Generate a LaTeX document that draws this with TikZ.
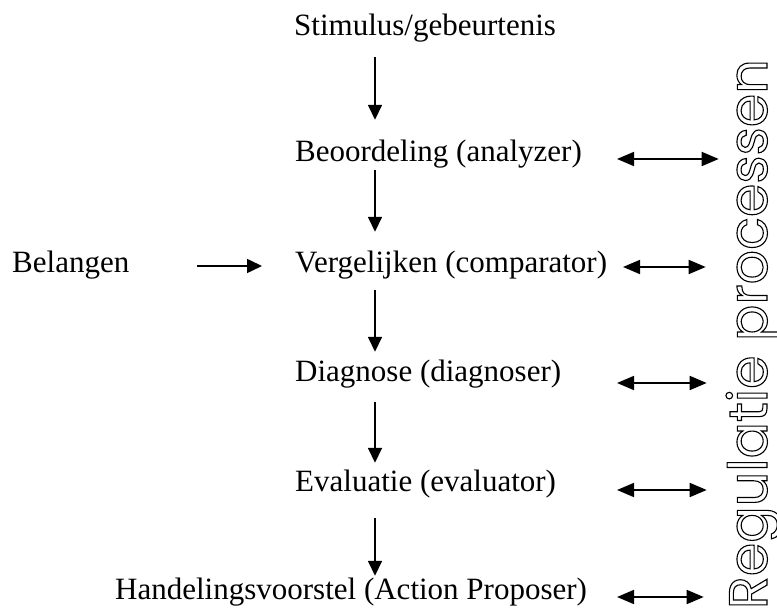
\documentclass[tikz,border=0pt]{standalone}
\usepackage{fontspec}
\setmainfont{Liberation Serif}
\newfontfamily\regfont{Poppins}
\usetikzlibrary{arrows.meta,calc}
\newcommand{\omtrek}[1]{\special{pdf:literal direct 1 Tr 1.1 w}#1\special{pdf:literal direct 0 Tr}}
\tikzset{
  stap/.style={anchor=base west, inner sep=0pt, text height=21pt, text depth=7pt,
    font=\fontsize{31}{36}\selectfont},
  reg/.style={rotate=90, inner sep=0pt, font=\regfont\fontsize{54}{60}\selectfont},
  pijl/.style={-{Triangle[length=15pt,width=14pt]}, line width=1.6pt},
  dubbel/.style={{Triangle[length=17pt,width=14pt]}-{Triangle[length=17pt,width=14pt]}, line width=1.8pt},
}
\begin{document}
\begin{tikzpicture}[x=1pt, y=-1pt]
  \useasboundingbox (0,0) rectangle (777,609);
  \draw
    (294,36) node[stap] (stim){Stimulus/gebeurtenis}
    (295,162) node[stap] (beo){Beoordeling (analyzer)}
    (295,273) node[stap] (verg){Vergelijken (comparator)}
    (295,382) node[stap] (diag){Diagnose (diagnoser)}
    (295,492) node[stap] (eval){Evaluatie (evaluator)}
    (115,599) node[stap] (hand){Handelingsvoorstel (Action Proposer)}
    (12,273) node[stap] (bel){Belangen};
  \node[reg, anchor=base east] (regu) at (767,59) {\omtrek{Regulatie processen}};
  \coordinate (as) at (375,0);
  \coordinate (pl) at (617,0);
  % neerwaartse stappen
  \draw[pijl, shorten <=14pt, shorten >=21pt] (stim.south -| as) -- (beo.north -| as);
  \draw[pijl, shorten <=1pt, shorten >=20pt] (beo.south -| as) -- (verg.north -| as);
  \draw[pijl, shorten <=10pt, shorten >=9pt] (verg.south -| as) -- (diag.north -| as);
  \draw[pijl, shorten <=13pt, shorten >=8pt] (diag.south -| as) -- (eval.north -| as);
  \draw[pijl, shorten <=19pt, shorten >=2pt] (eval.south -| as) -- (hand.north -| as);
  % belangen
  \draw[pijl] ($(bel.base east)+(68,-7)$) -- ($(verg.base west)+(-33,-7)$);
  % regulatie
  \draw[dubbel] ($(beo.base east -| pl)+(0,-3)$) -- ($(beo.base east -| regu.north)+(-7,-3)$);
  \draw[dubbel] ($(verg.base east -| pl)+(6,-6)$) -- ($(verg.base east -| regu.north)+(-20,-6)$);
  \draw[dubbel] ($(diag.base east -| pl)+(0,1)$) -- ($(diag.base east -| regu.north)+(-19,1)$);
  \draw[dubbel] ($(eval.base east -| pl)+(0,-2)$) -- ($(eval.base east -| regu.north)+(-19,-2)$);
  \draw[dubbel] ($(hand.base east -| pl)+(0,-2)$) -- ($(hand.base east -| regu.north)+(-22,-2)$);
\end{tikzpicture}
\end{document}
